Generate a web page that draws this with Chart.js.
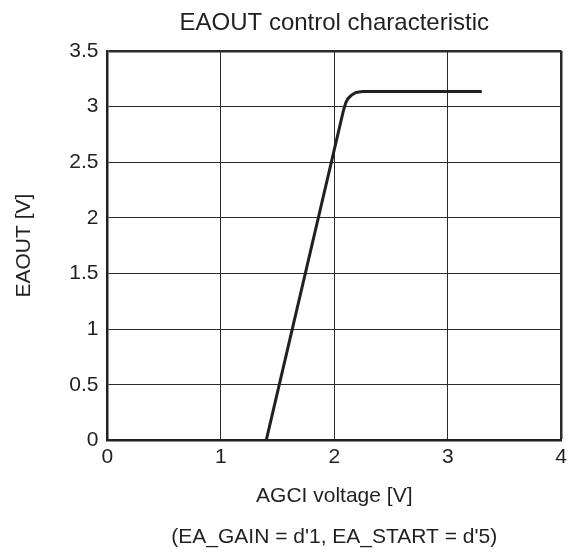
<!DOCTYPE html>
<html>
<head>
<meta charset="utf-8">
<script src="https://cdn.jsdelivr.net/npm/chart.js@4/dist/chart.umd.min.js"></script>
<style>
html,body{margin:0;padding:0;background:#fff;}
#wrap{width:571px;height:554px;}
</style>
</head>
<body>
<div id="wrap"><canvas id="c" width="571" height="554"></canvas></div>
<script>
const agciVoltage = [0, 1.40, 2.08, 2.10, 2.12, 2.15, 2.19, 2.25, 3.30];
const eaoutVoltage = [0, 0, 2.96, 3.03, 3.07, 3.10, 3.125, 3.134, 3.134];
const xTicks = [0, 1, 2, 3, 4];
const yTicks = [0, 0.5, 1, 1.5, 2, 2.5, 3, 3.5];
const titleText = 'EAOUT control characteristic';
const xTitle = 'AGCI voltage [V]';
const yTitle = 'EAOUT [V]';
const footnote = "(EA_GAIN = d'1, EA_START = d'5)";

const ink = '#231f20';
const font = 'Liberation Sans, Arial, Helvetica, sans-serif';

// center the chart title and footnote over the plot area instead of the whole canvas
const centerOverPlot = {
  id: 'centerOverPlot',
  afterLayout(chart) {
    const area = chart.chartArea;
    chart.boxes.forEach(b => {
      if (b.options && b.options.text !== undefined && !b.axis && (b.position === 'top' || b.position === 'bottom')) {
        b.left = area.left;
        b.right = area.right;
        b.width = area.right - area.left;
      }
    });
  }
};

new Chart(document.getElementById('c'), {
  type: 'scatter',
  data: {
    datasets: [{
      data: agciVoltage.map((x, i) => ({x: x, y: eaoutVoltage[i]})),
      showLine: true,
      borderColor: ink,
      borderWidth: 3,
      pointRadius: 0,
      tension: 0,
      borderJoinStyle: 'round',
      borderCapStyle: 'butt'
    }]
  },
  plugins: [centerOverPlot],
  options: {
    responsive: false,
    animation: false,
    devicePixelRatio: 1,
    layout: {padding: {left: 0, right: 9, top: 0, bottom: 0}},
    plugins: {
      legend: {display: false},
      tooltip: {enabled: false},
      title: {
        display: true,
        text: titleText,
        color: ink,
        font: {family: font, size: 24, weight: 'normal'},
        padding: {top: 9, bottom: 13}
      },
      subtitle: {
        display: true,
        position: 'bottom',
        text: footnote,
        color: ink,
        font: {family: font, size: 21, weight: 'normal'},
        padding: {top: 10, bottom: 4}
      }
    },
    scales: {
      x: {
        type: 'linear',
        min: 0, max: 4,
        afterBuildTicks: s => { s.ticks = xTicks.map(v => ({value: v})); },
        ticks: {color: ink, font: {family: font, size: 21}, padding: 4, maxRotation: 0, callback: v => String(v)},
        grid: {
          color: '#2a2a2a',
          lineWidth: c => (c.tick && c.tick.value === 4) ? 2.5 : 1,
          drawTicks: false
        },
        border: {display: true, color: ink, width: 2.5},
        title: {display: true, text: xTitle, color: ink, font: {family: font, size: 21}, padding: {top: 10, bottom: 6}}
      },
      y: {
        type: 'linear',
        min: 0, max: 3.5,
        afterBuildTicks: s => { s.ticks = yTicks.map(v => ({value: v})); },
        ticks: {color: ink, font: {family: font, size: 21}, padding: 9, callback: v => String(v)},
        grid: {
          color: '#2a2a2a',
          lineWidth: c => (c.tick && c.tick.value === 3.5) ? 2.5 : 1,
          drawTicks: false
        },
        border: {display: true, color: ink, width: 2.5},
        title: {display: true, text: yTitle, color: ink, font: {family: font, size: 21}, padding: {top: 12, bottom: 23}}
      }
    }
  }
});
</script>
</body>
</html>
